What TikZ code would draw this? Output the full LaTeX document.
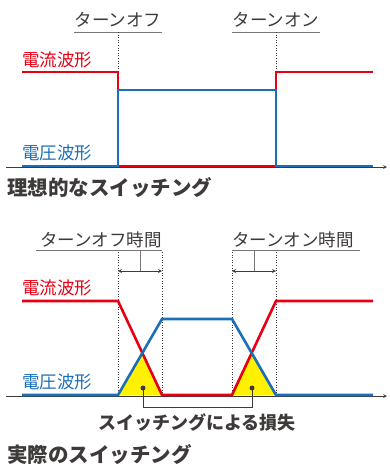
\documentclass[tikz,border=0pt]{standalone}
\usepackage{fontspec}
\setmainfont{Noto Sans CJK JP}
\usetikzlibrary{arrows, positioning, calc}
\definecolor{curred}{HTML}{E60012}
\definecolor{volblue}{HTML}{1C6FB7}
\definecolor{lossyel}{HTML}{FFF100}
\definecolor{inkgray}{HTML}{3E3A39}
\begin{document}
\begin{tikzpicture}[x=1pt,y=-1pt,
				lbl/.style={inner sep=0pt,text=inkgray,font=\fontsize{17.5}{18}\selectfont},
				wname/.style={inner sep=0pt,anchor=west,font=\fontsize{17.5}{18}\selectfont},
				ttl/.style={inner sep=0pt,anchor=west,text=inkgray,font=\bfseries\fontsize{20.5}{21}\selectfont},
				wav/.style={line width=2.6pt,line join=miter},
				ax/.style={->,>=stealth,draw=inkgray,line width=0.7pt},
				ul/.style={draw=inkgray!70,line width=1pt},
				guide/.style={draw=inkgray,dotted,line width=0.6pt},
				span/.style={<->,>=stealth,draw=inkgray,line width=0.8pt},
				dot/.style={circle,fill=inkgray,inner sep=0pt,minimum size=5pt}
			]
			\useasboundingbox (0,0) rectangle (389,464);
			\node[lbl] (off) at (118,20) {ターンオフ};
			\node[lbl] (on) at (276,20) {ターンオン};
			\coordinate (offul) at (118,32);
			\coordinate (onul) at (276,32);
			\draw[ul] (74,32) -- (162,32);
			\draw[ul] (232,32) -- (320,32);
			\node[wname,text=curred] (iname) at (22,60) {電流波形};
			\node[wname,text=volblue] (vname) at (22,153) {電圧波形};
			\coordinate (axl) at (6,167);
			\coordinate (axr) at (387,167);
			\draw[ax] (axl) -- (axr);
			\coordinate (ioff) at (118,72);
			\coordinate (ion) at (276,72);
			\draw[guide] (offul) -- (ioff);
			\draw[guide] (onul) -- (ion);
			\draw[wav,curred] (22,72) -- (ioff) -- (118,166) -- (276,166) -- (ion) -- (373,72);
			\draw[wav,volblue] (22,166) -- (118,166) -- (118,90) -- (276,90) -- (276,166) -- (373,166);
			\node[ttl] (ideal) at (7,188) {理想的なスイッチング};
			\node[lbl,anchor=east] (offt) at (162,240) {ターンオフ時間};
			\node[lbl,anchor=west] (ont) at (232,240) {ターンオン時間};
			\draw[ul] (36,250) -- (162,250);
			\draw[ul] (232,250) -- (360,250);
			\coordinate (a1) at (118,271);
			\coordinate (a2) at (162,271);
			\coordinate (a3) at (232,271);
			\coordinate (a4) at (276,271);
			\draw[ul] (140,250) -- ($(a1)!0.5!(a2)$);
			\draw[ul] (254,250) -- ($(a3)!0.5!(a4)$);
			\draw[span] (a1) -- (a2);
			\draw[span] (a3) -- (a4);
			\coordinate (bx) at (6,396);
			\coordinate (bxr) at (387,396);
			\draw[ax] (bx) -- (bxr);
			\foreach \gx in {118,162,232,276}
				\draw[guide] (\gx,252) -- (\gx,395);
			\node[wname,text=curred] (iname2) at (22,288) {電流波形};
			\node[wname,text=volblue] (vname2) at (22,382) {電圧波形};
			\coordinate (ih1) at (118,301);
			\coordinate (il1) at (162,395);
			\coordinate (il2) at (232,395);
			\coordinate (ih2) at (276,301);
			\coordinate (vl1) at (118,395);
			\coordinate (vh1) at (162,319);
			\coordinate (vh2) at (232,319);
			\coordinate (vl2) at (276,395);
			\coordinate (x1) at ($(ih1)!0.553!(il1)$);
			\coordinate (x2) at ($(il2)!0.447!(ih2)$);
			\fill[lossyel] (vl1) -- (x1) -- (il1) -- cycle;
			\fill[lossyel] (il2) -- (x2) -- (vl2) -- cycle;
			\draw[wav,curred] (22,301) -- (ih1) -- (il1) -- (il2) -- (ih2) -- (373,301);
			\draw[wav,volblue] (22,395) -- (vl1) -- (vh1) -- (vh2) -- (vl2) -- (373,395);
			\node[dot] (d1) at (143,388) {};
			\node[dot] (d2) at (252,388) {};
			\draw[ul,draw=inkgray] (d1.center) -- (143,407) -- (252,407) -- (d2.center);
			\node[lbl,font=\bfseries\fontsize{18}{18}\selectfont] (loss) at (197,423) {スイッチングによる損失};
			\node[ttl] (real) at (7,455) {実際のスイッチング};
			\end{tikzpicture}
\end{document}
